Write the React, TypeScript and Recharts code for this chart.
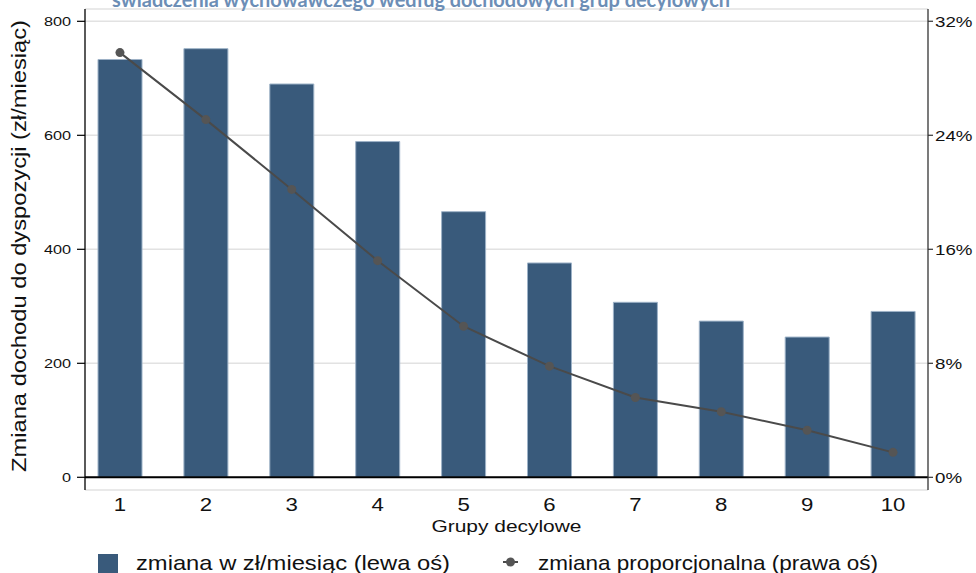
import React from "react";
import { ComposedChart, Bar, Line, XAxis, YAxis, CartesianGrid, ReferenceLine, Legend } from "recharts";

const groups = [1, 2, 3, 4, 5, 6, 7, 8, 9, 10];
const changePln = [733, 752, 690, 589, 466, 376, 307, 274, 246, 291];
const changePct = [29.8, 25.1, 20.2, 15.2, 10.6, 7.8, 5.6, 4.6, 3.3, 1.75];
const leftTicks = [0, 200, 400, 600, 800];
const rightTicks = [0, 8, 16, 24, 32];
const seriesNames = ["zmiana w zł/miesiąc (lewa oś)", "zmiana proporcjonalna (prawa oś)"];
const titleText = "świadczenia wychowawczego według dochodowych grup decylowych";
const yTitle = "Zmiana dochodu do dyspozycji (zł/miesiąc)";
const xTitle = "Grupy decylowe";

const data = groups.map((g, i) => ({ group: g, pln: changePln[i], pct: changePct[i] }));

const FONT = '"Liberation Sans", Arial, sans-serif';
const BAR = "#395a7b";
const LINE = "#4a4a4a";

function LeftTick({ x, y, payload }: any) {
  return (
    <text transform={`translate(${x},${y}) scale(1.25,1)`} textAnchor="end" dy="0.36em" fontSize={13} fill="#111" fontFamily={FONT}>
      {payload.value}
    </text>
  );
}

function RightTick({ x, y, payload }: any) {
  return (
    <text transform={`translate(${x},${y}) scale(1.25,1)`} textAnchor="start" dy="0.36em" fontSize={15} fill="#111" fontFamily={FONT}>
      {`${payload.value}%`}
    </text>
  );
}

function BottomTick({ x, y, payload }: any) {
  return (
    <text transform={`translate(${x},${y + 21}) scale(1.2,1)`} textAnchor="middle" fontSize={18.5} fill="#111" fontFamily={FONT}>
      {payload.value}
    </text>
  );
}

function LegendContent() {
  return (
    <svg width={976} height={33} style={{ display: "block" }}>
      <rect x={98} y={14} width={20} height={19} fill={BAR} />
      <text x={136} y={30} fontSize={21} fill="#111" fontFamily={FONT} textLength={314} lengthAdjust="spacingAndGlyphs">
        {seriesNames[0]}
      </text>
      <line x1={503} x2={518} y1={22} y2={22} stroke={LINE} strokeWidth={2} />
      <circle cx={510.5} cy={22} r={4.5} fill="#555" />
      <text x={538} y={30} fontSize={21} fill="#111" fontFamily={FONT} textLength={340} lengthAdjust="spacingAndGlyphs">
        {seriesNames[1]}
      </text>
    </svg>
  );
}

export default function App() {
  return (
    <div style={{ width: 976, height: 573, position: "relative", background: "#fff" }}>
      <style>{"body{margin:0}"}</style>
      <ComposedChart
        width={976}
        height={573}
        data={data}
        margin={{ top: 9, right: 0, bottom: 53, left: 0 }}
        style={{ fontFamily: FONT }}
      >
        <CartesianGrid yAxisId="left" vertical={false} stroke="#e2e2e2" strokeWidth={1.5} />
        <XAxis
          dataKey="group"
          type="number"
          domain={[0.593, 10.407]}
          ticks={groups}
          allowDataOverflow
          axisLine={false}
          tickLine={false}
          tickSize={0}
          tickMargin={0}
          height={30}
          tick={<BottomTick />}
          interval={0}
        />
        <YAxis
          yAxisId="left"
          orientation="left"
          width={85}
          domain={[-22.3, 821.6]}
          ticks={leftTicks}
          allowDataOverflow
          axisLine={{ stroke: "#000", strokeWidth: 1.3 }}
          tickLine={{ stroke: "#000", strokeWidth: 1.2 }}
          tickSize={8}
          tickMargin={6}
          tick={<LeftTick />}
          interval={0}
        />
        <YAxis
          yAxisId="right"
          orientation="right"
          width={48}
          domain={[-0.891, 32.86]}
          ticks={rightTicks}
          allowDataOverflow
          axisLine={{ stroke: "#333", strokeWidth: 1.3 }}
          tickLine={{ stroke: "#333", strokeWidth: 1.2 }}
          tickSize={5}
          tickMargin={2}
          tick={<RightTick />}
          interval={0}
        />
        <Bar
          yAxisId="left"
          dataKey="pln"
          name={seriesNames[0]}
          fill={BAR}
          stroke="#9db2c7"
          strokeWidth={1}
          barSize={44}
          isAnimationActive={false}
        />
        <ReferenceLine yAxisId="left" y={0} stroke="#000" strokeWidth={2} />
        <Line
          yAxisId="right"
          dataKey="pct"
          name={seriesNames[1]}
          type="linear"
          stroke={LINE}
          strokeWidth={2}
          dot={{ r: 4.5, fill: "#555", stroke: "#555", strokeWidth: 0 }}
          activeDot={false}
          isAnimationActive={false}
        />
        <Legend
          layout="horizontal"
          verticalAlign="middle"
          align="center"
          content={<LegendContent />}
          wrapperStyle={{ top: 540, left: 0, width: 976, height: 33 }}
        />
        <text x={112} y={6.5} fontFamily="Lato, sans-serif" fontWeight="bold" fontSize={20} fill="#6c8eb6" textLength={618} lengthAdjust="spacingAndGlyphs">
          {titleText}
        </text>
        <text transform="translate(26,246) rotate(-90)" textAnchor="middle" fontFamily={FONT} fontSize={21} fill="#111" textLength={452} lengthAdjust="spacingAndGlyphs">
          {yTitle}
        </text>
        <text x={506.5} y={531.5} textAnchor="middle" fontFamily={FONT} fontSize={16} fill="#111" textLength={150} lengthAdjust="spacingAndGlyphs">
          {xTitle}
        </text>
      </ComposedChart>
    </div>
  );
}
